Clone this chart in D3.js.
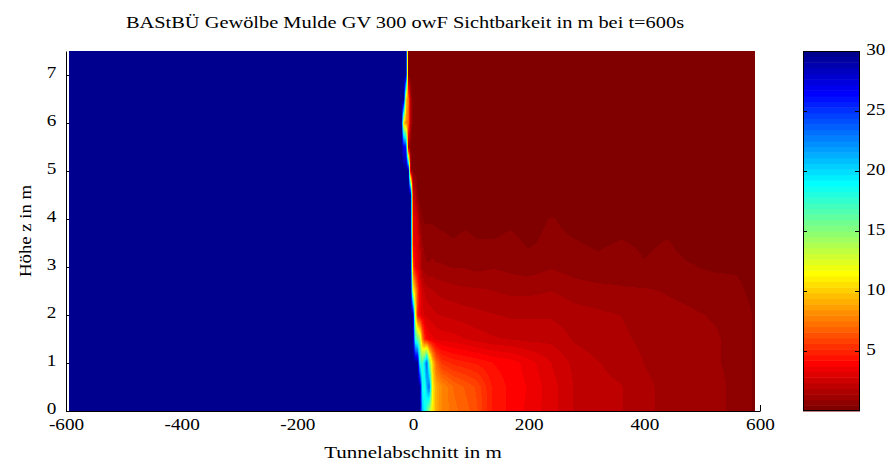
<!DOCTYPE html>
<html>
<head>
<meta charset="utf-8">
<script src="https://cdn.jsdelivr.net/npm/d3@7"></script>
<style>
  body { margin: 0; background: #fff; }
  svg text { font-family: 'Liberation Serif', 'DejaVu Serif', serif; fill: #000; }
</style>
</head>
<body>
<div id="chart"></div>
<script>
// grid: tunnel position (m) and height (m)
const xPos = [-595, -20, -16, -12, -8, -4, 0, 4, 8, 12, 16, 20, 24, 28, 34, 40, 50,
  70, 90, 110, 140, 170, 200, 240, 280, 320, 360, 400, 440, 480, 520, 560, 592];
const zPos = [0, 0.5, 1, 1.5, 2, 2.5, 3, 3.5, 4, 4.5, 5, 5.5, 6, 6.5, 7, 7.5];

// visibility in m, one row per height in zPos, one value per xPos
const sicht = [
  [30,30,30,30,30,30,30,30,30,30, 21,19,17,14,11,9,8, 7.2,6.8,6.2,4.5,4.1,3.6,3.0,2.3,2.0,1.9,1.5,1.3,1.2,1.1,0.8,0.4],
  [30,30,30,30,30,30,30,30,30,30, 19,18,21,24,11,9,8, 7,6.5,6,4.5,4.1,3.7,3.0,2.3,2.0,1.9,1.5,1.3,1.2,1.1,0.8,0.4],
  [30,30,30,30,30,30,30,30,30, 18,17,20,24,16,10,7,5.5, 5,4.8,4.6,4.2,4,3.5,2.8,2.2,1.9,1.7,1.4,1.2,1.1,1.0,0.8,0.4],
  [30,30,30,30,30,30,30, 18,16,14,8,5,4,3.6,3.4,3.2,3.1, 3.0,2.8,2.6,2.4,2.3,2.2,2.2,1.8,1.6,1.5,1.3,1.2,1.1,1.0,0.8,0.4],
  [30,30,30,30,30,30,30, 12,5,3.5,3,2.8,2.7,2.6,2.5,2.4,2.3, 2.2,2.1,2.0,1.9,1.8,1.8,1.8,1.6,1.5,1.4,1.2,1.1,1.0,0.9,0.8,0.4],
  [30,30,30,30,30,30, 12,9,6,3.5,2.8,2.3,2.1,2.0,1.9,1.8,1.7, 1.6,1.5,1.5,1.4,1.3,1.3,1.4,1.2,1.1,1.0,1.0,0.9,0.8,0.7,0.6,0.3],
  [30,30,30,30,30,30, 6,3.8,3.2,2.5,1.3,1.1,1.0,1.0,1.1,1.0,1.0, 0.9,0.9,0.8,0.9,0.8,0.7,0.9,0.7,0.6,0.7,0.5,0.6,0.5,0.4,0.4,0.2],
  [30,30,30,30,30,30, 3.4,3.2,3,2,1,0.8,0.7,0.7,0.7,0.6,0.6, 0.5,0.6,0.5,0.5,0.6,0.4,0.6,0.5,0.4,0.5,0.4,0.5,0.3,0.4,0.3,0.2],
  [30,30,30,30,30,30, 3.2,3,2.5,0.8,0.5,0.4,0.4,0.4,0.4,0.4,0.35, 0.3,0.35,0.3,0.3,0.35,0.3,0.5,0.3,0.3,0.3,0.3,0.3,0.3,0.3,0.3,0.2],
  [30,30,30,30,30,30, 2.2,1.8,0.5,0.2,0.2,0.2,0.2,0.2,0.2,0.2,0.2, 0.2,0.2,0.2,0.2,0.2,0.2,0.2,0.2,0.2,0.2,0.2,0.2,0.2,0.2,0.2,0.2],
  [30,30,30,30,30, 1.2,0.3,0.2,0.2,0.2,0.2,0.2,0.2,0.2,0.2,0.2,0.2, 0.2,0.2,0.2,0.2,0.2,0.2,0.2,0.2,0.2,0.2,0.2,0.2,0.2,0.2,0.2,0.2],
  [30,30, 27,26,1.5,0.4,0.2,0.2,0.2,0.2,0.2,0.2,0.2,0.2,0.2,0.2,0.2, 0.2,0.2,0.2,0.2,0.2,0.2,0.2,0.2,0.2,0.2,0.2,0.2,0.2,0.2,0.2,0.2],
  [30,30, 10,8,7,1.5,0.2,0.2,0.2,0.2,0.2,0.2,0.2,0.2,0.2,0.2,0.2, 0.2,0.2,0.2,0.2,0.2,0.2,0.2,0.2,0.2,0.2,0.2,0.2,0.2,0.2,0.2,0.2],
  [30,30,30, 10,7.5,1.5,0.2,0.2,0.2,0.2,0.2,0.2,0.2,0.2,0.2,0.2,0.2, 0.2,0.2,0.2,0.2,0.2,0.2,0.2,0.2,0.2,0.2,0.2,0.2,0.2,0.2,0.2,0.2],
  [30,30,30,30, 0.3,0.2,0.2,0.2,0.2,0.2,0.2,0.2,0.2,0.2,0.2,0.2,0.2, 0.2,0.2,0.2,0.2,0.2,0.2,0.2,0.2,0.2,0.2,0.2,0.2,0.2,0.2,0.2,0.2],
  [30,30,30,30, 0.3,0.2,0.2,0.2,0.2,0.2,0.2,0.2,0.2,0.2,0.2,0.2,0.2, 0.2,0.2,0.2,0.2,0.2,0.2,0.2,0.2,0.2,0.2,0.2,0.2,0.2,0.2,0.2,0.2]
];

const xTicks = [-600, -400, -200, 0, 200, 400, 600];
const zTicks = [0, 1, 2, 3, 4, 5, 6, 7];
const cTicks = [5, 10, 15, 20, 25, 30];
const cRange = [0, 30];

const width = 890, height = 464;
const plot = {left: 66, right: 760, top: 51, bottom: 411};
const bar = {left: 803, right: 860};
const stretch = 1.2; // the source figure is wider than the font

const x = d3.scaleLinear().domain([-600, 600]).range([plot.left, plot.right]);
const y = d3.scaleLinear().domain([0, 7.5]).range([plot.bottom, plot.top]);
const cy = d3.scaleLinear().domain(cRange).range([plot.bottom, plot.top]);

// matlab jet(m)
function jet(m) {
  const n = Math.ceil(m / 4);
  const u = [...d3.range(1, n + 1).map(k => k / n), ...d3.range(n - 1).map(() => 1), ...d3.range(n, 0, -1).map(k => k / n)];
  const off = Math.ceil(n / 2) - (m % 4 === 1 ? 1 : 0);
  const at = k => (k >= 1 && k <= u.length) ? u[k - 1] : 0;
  return d3.range(1, m + 1).map(i => d3.rgb(255 * at(i - off - n), 255 * at(i - off), 255 * at(i - off + n)));
}
const cmap = jet(64).reverse();
const level = d3.scaleQuantize().domain(cRange).range(d3.range(cmap.length));

const svg = d3.select('#chart').append('svg')
  .attr('width', width)
  .attr('height', height);

const styleTicks = g => g.selectAll('text')
  .attr('font-size', 16)
  .attr('font-family', null)
  .attr('transform', `scale(${stretch},1)`);

// axes first, so the image hides the inner ticks like in matlab
svg.append('g')
  .attr('transform', `translate(0,${plot.bottom})`)
  .call(d3.axisBottom(x).tickValues(xTicks).tickFormat(d => String(d))
    .tickSize(-6).tickSizeOuter(0).tickPadding(8))
  .call(styleTicks);

svg.append('g')
  .attr('transform', `translate(${plot.left},0)`)
  .call(d3.axisLeft(y).tickValues(zTicks).tickSize(-6).tickSizeOuter(0).tickPadding(8))
  .call(styleTicks)
  .call(g => g.selectAll('text').attr('dy', '0.18em'));

// shaded field, bilinear between grid nodes
const x0 = Math.round(x(xPos[0])), x1 = Math.round(x(xPos[xPos.length - 1]));
const y0 = Math.round(y(zPos[zPos.length - 1])), y1 = Math.round(y(zPos[0]));
const w = x1 - x0, h = y1 - y0;
const canvas = document.createElement('canvas');
canvas.width = w; canvas.height = h;
const ctx = canvas.getContext('2d');
const img = ctx.createImageData(w, h);

function cell(arr, v) {
  let i = d3.bisectRight(arr, v) - 1;
  i = Math.max(0, Math.min(arr.length - 2, i));
  const t = Math.max(0, Math.min(1, (v - arr[i]) / (arr[i + 1] - arr[i])));
  return [i, t];
}

for (let j = 0; j < h; j++) {
  const [zi, tz] = cell(zPos, y.invert(y0 + j + 0.5));
  for (let i = 0; i < w; i++) {
    const [xi, tx] = cell(xPos, x.invert(x0 + i + 0.5));
    const a = sicht[zi][xi] * (1 - tx) + sicht[zi][xi + 1] * tx;
    const b = sicht[zi + 1][xi] * (1 - tx) + sicht[zi + 1][xi + 1] * tx;
    const c = cmap[level(a * (1 - tz) + b * tz)];
    const p = (j * w + i) * 4;
    img.data[p] = c.r; img.data[p + 1] = c.g; img.data[p + 2] = c.b; img.data[p + 3] = 255;
  }
}
ctx.putImageData(img, 0, 0);

svg.append('image')
  .attr('x', x0).attr('y', y0)
  .attr('width', w).attr('height', h)
  .attr('preserveAspectRatio', 'none')
  .attr('href', canvas.toDataURL());

// colorbar
svg.append('g')
  .selectAll('rect')
  .data(cmap)
  .join('rect')
  .attr('x', bar.left)
  .attr('width', bar.right - bar.left)
  .attr('y', (c, k) => cy(level.invertExtent(k)[1]))
  .attr('height', (c, k) => cy(level.invertExtent(k)[0]) - cy(level.invertExtent(k)[1]) + 0.5)
  .attr('fill', c => c.formatHex());

svg.append('rect')
  .attr('x', bar.left + 0.5).attr('y', plot.top + 0.5)
  .attr('width', bar.right - bar.left - 1).attr('height', plot.bottom - plot.top - 1)
  .attr('fill', 'none').attr('stroke', '#000');

svg.append('g')
  .attr('transform', `translate(${bar.right - 1},0)`)
  .call(d3.axisRight(cy).tickValues(cTicks).tickSize(-4).tickSizeOuter(0).tickPadding(6))
  .call(g => g.select('.domain').remove())
  .call(styleTicks)
  .call(g => g.selectAll('text').attr('dy', '0.2em'));

svg.append('g')
  .attr('transform', `translate(${bar.left},0)`)
  .call(d3.axisLeft(cy).tickValues(cTicks).tickSize(-4).tickSizeOuter(0).tickFormat(''))
  .call(g => g.select('.domain').remove());

// labels
svg.append('text')
  .attr('transform', `translate(405,28) scale(${stretch},1)`)
  .attr('text-anchor', 'middle')
  .attr('font-size', 17)
  .text('BAStBÜ Gewölbe Mulde GV 300 owF Sichtbarkeit in m bei t=600s');

svg.append('text')
  .attr('transform', `translate(${(plot.left + plot.right) / 2},458) scale(${stretch},1)`)
  .attr('text-anchor', 'middle')
  .attr('font-size', 17.5)
  .text('Tunnelabschnitt in m');

svg.append('text')
  .attr('transform', `translate(31,${(plot.top + plot.bottom) / 2}) rotate(-90) scale(1.1,1)`)
  .attr('text-anchor', 'middle')
  .attr('font-size', 17)
  .text('Höhe z in m');
</script>
</body>
</html>
